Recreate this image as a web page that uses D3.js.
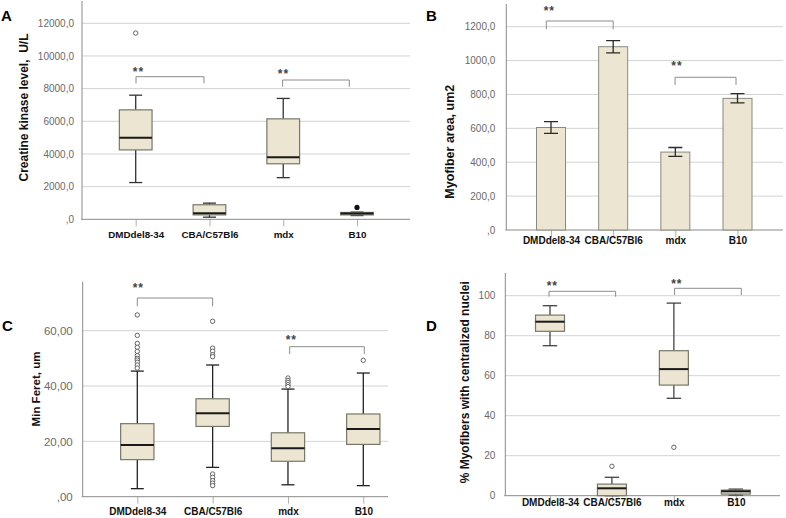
<!DOCTYPE html>
<html><head><meta charset="utf-8">
<script src="https://cdn.jsdelivr.net/npm/d3@7"></script>
<style>
body{margin:0;background:#fff}
svg{display:block}
text{font-family:"Liberation Sans",Arial,sans-serif}
</style>
</head><body>
<svg id="chart" width="786" height="518"></svg>
<script>
// ---------- DATA ----------
const categories = ["DMDdel8-34", "CBA/C57Bl6", "mdx", "B10"];

// Panel A: Creatine kinase (box plots)
const ckTicks = [0, 2000, 4000, 6000, 8000, 10000, 12000];
const ckLow    = [2250, 130, 2550, 230];
const ckQ1     = [4250, 270, 3400, 270];
const ckMedian = [5000, 370, 3800, 350];
const ckQ3     = [6700, 890, 6150, 420];
const ckHigh   = [7600, 990, 7400, 440];
const ckOutliers = [[11400], [], [], []];
const ckExtremes = [[], [], [], [730]];

// Panel B: Myofiber area (bars with error bars)
const areaTicks = [0, 200, 400, 600, 800, 1000, 1200];
const areaMean    = [605, 1082, 460, 777];
const areaErrLow  = [570, 1045, 435, 750];
const areaErrHigh = [640, 1118, 487, 805];

// Panel C: Min Feret (box plots)
const feretTicks = [0, 20, 40, 60];
const feretLow    = [2.9, 10.6, 4.3, 4.0];
const feretQ1     = [13.4, 25.4, 12.8, 18.9];
const feretMedian = [18.7, 30.2, 17.5, 24.5];
const feretQ3     = [26.4, 35.4, 23.1, 29.9];
const feretHigh   = [45.4, 47.6, 38.9, 44.7];
const feretOutliers = [
  [65.7, 58.3, 55.4, 54.0, 52.5, 51.0, 50.0, 49.4, 48.6, 47.6, 46.5],
  [63.4, 53.7, 52.6, 51.3, 50.6, 8.2, 7.0, 5.8, 4.9, 4.0],
  [42.9, 42.0, 41.3, 40.5, 39.8],
  [49.3]
];
const feretExtremes = [[], [], [], []];

// Panel D: % centralized nuclei (box plots)
const cnTicks = [0, 20, 40, 60, 80, 100];
const cnLow    = [75, 0, 48.7, 0.3];
const cnQ1     = [82.2, 0, 55.3, 0.8];
const cnMedian = [87, 3.7, 63.3, 2.2];
const cnQ3     = [90.3, 5.8, 72.5, 2.8];
const cnHigh   = [95, 9.2, 96.3, 3.3];
const cnOutliers = [[], [14.7], [24.2], []];
const cnExtremes = [[], [], [], []];

// significance pairs (category indices)
const sigPairs = [[0, 1], [2, 3]];
const sigLabel = "**";

// ---------- DRAWING ----------
const svg = d3.select("#chart");
const fill = "#ece5d1", boxStroke = "#77776a";

const fmt1 = d => d === 0 ? ",0" : d3.format(".1f")(d).replace(".", ",");
const fmt2 = d => d === 0 ? ",00" : d3.format(".2f")(d).replace(".", ",");
const fmt0 = d => String(d);

function frame(cfg) {
  const g = svg.append("g");
  const y = d3.scaleLinear().domain([0, cfg.ticks[cfg.ticks.length - 1]])
    .range([cfg.yZero, cfg.yTopTick]);
  const x = d3.scalePoint().domain(categories).range([cfg.c0, cfg.c3]);

  // gridlines
  g.append("g").selectAll("line").data(cfg.ticks.filter(t => t > 0)).join("line")
    .attr("x1", cfg.axisX).attr("x2", cfg.right)
    .attr("y1", d => y(d)).attr("y2", d => y(d))
    .attr("stroke", "#d3d3d3").attr("stroke-width", 1);

  // y axis labels
  const ya = g.append("g").attr("transform", `translate(${cfg.axisX},0)`)
    .call(d3.axisLeft(y).tickValues(cfg.ticks).tickSize(0).tickPadding(cfg.tickPad).tickFormat(cfg.fmt));
  ya.select(".domain").remove();
  ya.selectAll("text").attr("fill", "#6a6a6a").style("font-size", cfg.tickFont + "px");

  // x axis
  const xa = g.append("g").attr("transform", `translate(0,${cfg.yZero})`)
    .call(d3.axisBottom(x).tickSize(7).tickPadding(0));
  xa.select(".domain").remove();
  xa.selectAll(".tick line").attr("stroke", "#b0b0b0");
  xa.selectAll("text").attr("y", cfg.labelOff).attr("dy", "0.35em")
    .attr("fill", "#111").style("font-weight", "bold").style("font-size", cfg.catFont + "px");

  // axis lines
  g.append("line").attr("x1", cfg.axisX).attr("x2", cfg.axisX)
    .attr("y1", cfg.yTop).attr("y2", cfg.yZero).attr("stroke", "#8a8a8a");
  g.append("line").attr("x1", cfg.axisX - 1).attr("x2", cfg.right)
    .attr("y1", cfg.yZero).attr("y2", cfg.yZero).attr("stroke", "#8a8a8a");

  // title
  g.append("text").attr("transform", `translate(${cfg.titleX},${cfg.titleY}) rotate(-90)`)
    .attr("text-anchor", "middle").attr("dy", "0.35em")
    .style("font-weight", "bold").style("font-size", cfg.titleFont + "px")
    .style("white-space", "pre").attr("fill", "#111").text(cfg.title);

  // panel letter
  g.append("text").attr("x", cfg.letterX).attr("y", cfg.letterY)
    .style("font-weight", "bold").style("font-size", "15px").attr("fill", "#000").text(cfg.letter);

  return { g, x, y };
}

function drawSig(g, x, cfg) {
  sigPairs.forEach((p, i) => {
    const s = cfg.sig[i];
    const xa = x(categories[p[0]]) + s.dxa, xb = x(categories[p[1]]) + s.dxb;
    g.append("path")
      .attr("d", `M${xa},${s.y + s.leg}V${s.y}H${xb}V${s.y + s.leg}`)
      .attr("fill", "none").attr("stroke", "#8c8c8c").attr("stroke-width", 1);
    g.append("text").attr("x", xa + s.tx).attr("y", s.ty).attr("text-anchor", "middle")
      .style("font-size", "12px").style("font-weight", "bold").style("letter-spacing", "1px")
      .attr("fill", "#444").text(sigLabel);
  });
}

function drawBoxes(cfg, low, q1, med, q3, high, outl, extr) {
  const { g, x, y } = frame(cfg);
  const bw = cfg.boxW, cap = cfg.capW;
  categories.forEach((c, i) => {
    const cx = x(c);
    const gg = g.append("g");
    // whiskers
    gg.append("line").attr("x1", cx).attr("x2", cx).attr("y1", y(high[i])).attr("y2", y(q3[i]))
      .attr("stroke", cfg.whisk).attr("stroke-width", 1.3);
    gg.append("line").attr("x1", cx).attr("x2", cx).attr("y1", y(q1[i])).attr("y2", y(low[i]))
      .attr("stroke", cfg.whisk).attr("stroke-width", 1.3);
    gg.append("line").attr("x1", cx - cap / 2).attr("x2", cx + cap / 2).attr("y1", y(high[i])).attr("y2", y(high[i]))
      .attr("stroke", cfg.whisk).attr("stroke-width", 1.3);
    gg.append("line").attr("x1", cx - cap / 2).attr("x2", cx + cap / 2).attr("y1", y(low[i])).attr("y2", y(low[i]))
      .attr("stroke", cfg.whisk).attr("stroke-width", 1.3);
    // box
    gg.append("rect").attr("x", cx - bw / 2).attr("width", bw)
      .attr("y", y(q3[i])).attr("height", Math.max(1, y(q1[i]) - y(q3[i])))
      .attr("fill", fill).attr("stroke", boxStroke).attr("stroke-width", 1.2);
    // median
    gg.append("line").attr("x1", cx - bw / 2).attr("x2", cx + bw / 2).attr("y1", y(med[i])).attr("y2", y(med[i]))
      .attr("stroke", "#1a1a1a").attr("stroke-width", 2);
    // outliers
    gg.selectAll("circle.o").data(outl[i]).join("circle").attr("class", "o")
      .attr("cx", cx).attr("cy", d => y(d)).attr("r", 2.2)
      .attr("fill", "#fff").attr("stroke", "#555").attr("stroke-width", 0.9);
    gg.selectAll("circle.e").data(extr[i]).join("circle").attr("class", "e")
      .attr("cx", cx).attr("cy", d => y(d)).attr("r", 2.6).attr("fill", "#111");
  });
  drawSig(g, x, cfg);
}

function drawBars(cfg, mean, lo, hi) {
  const { g, x, y } = frame(cfg);
  const bw = cfg.boxW, cap = cfg.capW;
  g.append("g").selectAll("rect").data(categories).join("rect")
    .attr("x", d => x(d) - bw / 2).attr("width", bw)
    .attr("y", (d, i) => y(mean[i])).attr("height", (d, i) => y(0) - y(mean[i]))
    .attr("fill", fill).attr("stroke", "#8a8a80").attr("stroke-width", 1);
  categories.forEach((c, i) => {
    const cx = x(c);
    g.append("path")
      .attr("d", `M${cx - cap / 2},${y(hi[i])}H${cx + cap / 2}M${cx},${y(hi[i])}V${y(lo[i])}M${cx - cap / 2},${y(lo[i])}H${cx + cap / 2}`)
      .attr("fill", "none").attr("stroke", "#2a2a2a").attr("stroke-width", 1.3);
  });
  drawSig(g, x, cfg);
}

drawBoxes({
  ticks: ckTicks, fmt: fmt1, yZero: 219.3, yTopTick: 23.3, yTop: 1, axisX: 82, right: 410,
  c0: 135.7, c3: 357, boxW: 32.7, capW: 13, tickPad: 8, tickFont: 10, catFont: 9.8, labelOff: 15.7,
  title: "Creatine kinase level,  U/L", titleX: 23.5, titleY: 107.5, titleFont: 12,
  letter: "A", letterX: 1, letterY: 21, whisk: "#333",
  sig: [{ y: 76.7, leg: 6.6, dxa: 0.3, dxb: -5.5, tx: 2.5, ty: 75.5 },
        { y: 80, leg: 6.7, dxa: -0.6, dxb: -7.7, tx: 0.8, ty: 77.5 }]
}, ckLow, ckQ1, ckMedian, ckQ3, ckHigh, ckOutliers, ckExtremes);

drawBars({
  ticks: areaTicks, fmt: fmt1, yZero: 230, yTopTick: 26.7, yTop: 4, axisX: 506.3, right: 783,
  c0: 551, c3: 737.5, boxW: 29, capW: 14, tickPad: 11, tickFont: 10, catFont: 10, labelOff: 10,
  title: "Myofiber area, um2", titleX: 449.7, titleY: 141.7, titleFont: 12.5,
  letter: "B", letterX: 426, letterY: 21, whisk: "#333",
  sig: [{ y: 21, leg: 8.3, dxa: -4.7, dxb: 0, tx: 3, ty: 14.5 },
        { y: 77.3, leg: 7.7, dxa: -0.3, dxb: -1.5, tx: 2, ty: 69.5 }]
}, areaMean, areaErrLow, areaErrHigh);

drawBoxes({
  ticks: feretTicks, fmt: fmt2, yZero: 496.7, yTopTick: 330.7, yTop: 281.7, axisX: 82.7, right: 388,
  c0: 137.3, c3: 363.3, boxW: 33.3, capW: 13, tickPad: 10, tickFont: 11.5, catFont: 10, labelOff: 14.7,
  title: "Min Feret, um", titleX: 36, titleY: 389, titleFont: 11.5,
  letter: "C", letterX: 2, letterY: 331, whisk: "#222",
  sig: [{ y: 298, leg: 8.3, dxa: 0, dxb: 0, tx: 1, ty: 291.5 },
        { y: 346.7, leg: 7.3, dxa: 1.7, dxb: 1, tx: 1.7, ty: 343.5 }]
}, feretLow, feretQ1, feretMedian, feretQ3, feretHigh, feretOutliers, feretExtremes);

drawBoxes({
  ticks: cnTicks, fmt: fmt0, yZero: 495.7, yTopTick: 295.7, yTop: 273, axisX: 505.3, right: 780,
  c0: 550, c3: 735.8, boxW: 29, capW: 14.5, tickPad: 10, tickFont: 10, catFont: 10, labelOff: 6.5,
  title: "% Myofibers with centralized nuclei", titleX: 464.7, titleY: 382.3, titleFont: 12,
  letter: "D", letterX: 426, letterY: 331, whisk: "#444",
  sig: [{ y: 291.3, leg: 5.4, dxa: -1, dxb: 3.7, tx: 3.3, ty: 289.5 },
        { y: 288.3, leg: 6.7, dxa: 0.7, dxb: 5.5, tx: 2.3, ty: 287.5 }]
}, cnLow, cnQ1, cnMedian, cnQ3, cnHigh, cnOutliers, cnExtremes);
</script>
</body></html>
